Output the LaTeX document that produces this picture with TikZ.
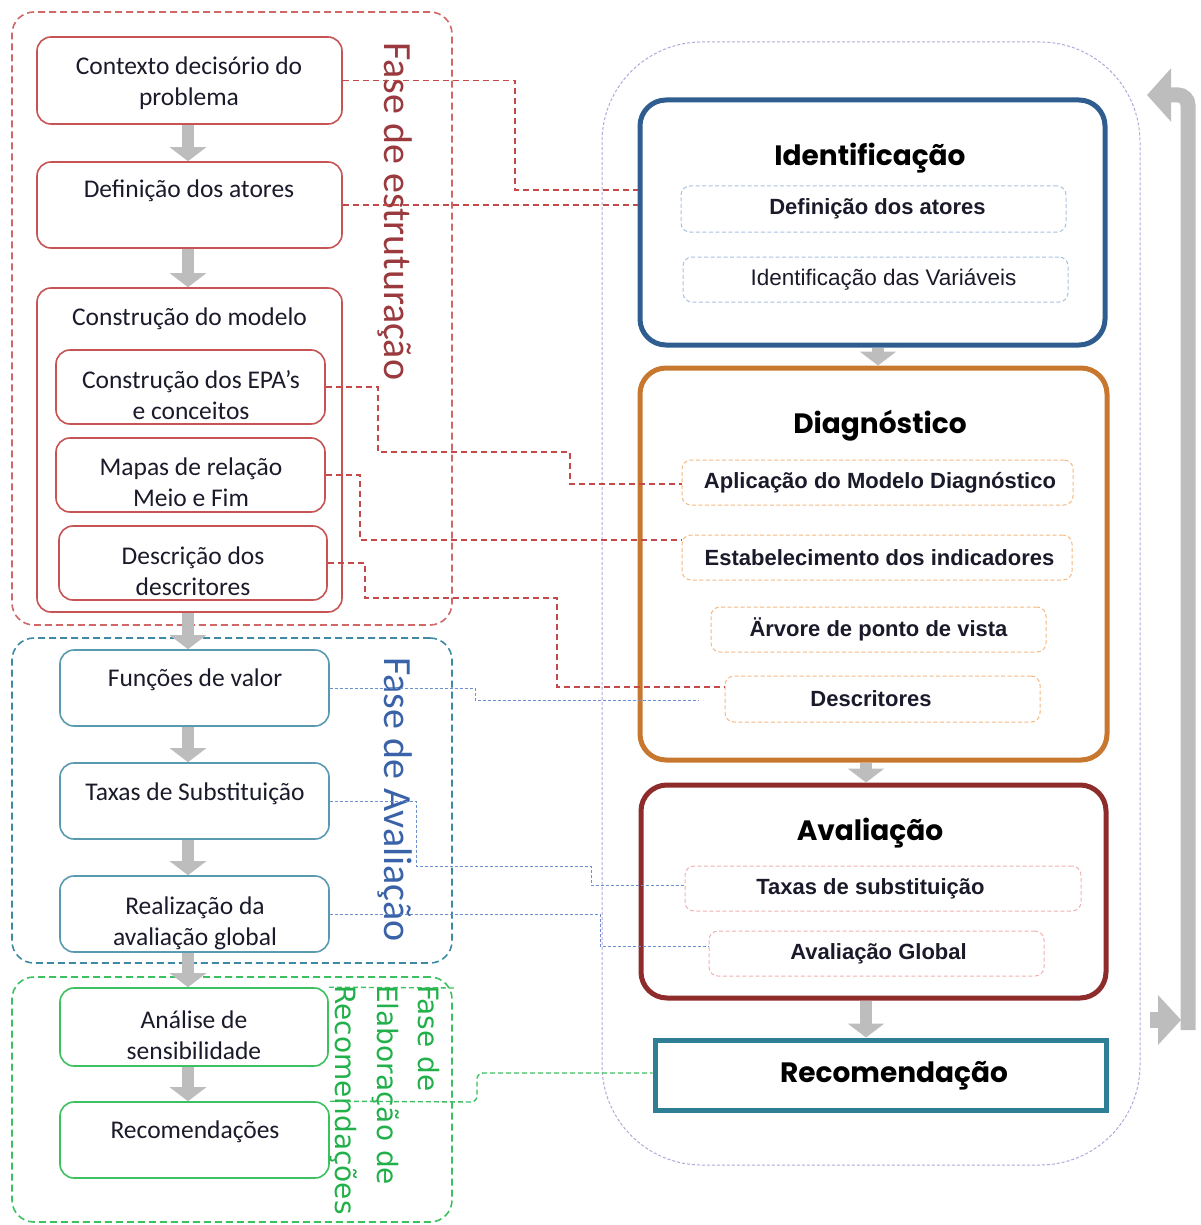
\documentclass[tikz,border=0pt]{standalone}
\usepackage{fontspec}
\usetikzlibrary{arrows.meta}
\setmainfont{Carlito}
\newfontfamily\headfont{Poppins}
\newfontfamily\arialfont{Liberation Sans}
\newfontfamily\greenfont{DejaVu Sans}

\definecolor{estrline}{HTML}{D06868}
\definecolor{estrbox}{HTML}{C65454}
\definecolor{estrtext}{HTML}{9A3A3E}
\definecolor{avalline}{HTML}{3E8AA4}
\definecolor{avalbox}{HTML}{5A9AB0}
\definecolor{avaltext}{HTML}{3A62A8}
\definecolor{elabline}{HTML}{3CC060}
\definecolor{elabtext}{HTML}{22B04A}
\definecolor{arrowgray}{HTML}{BDBDBD}
\definecolor{identc}{HTML}{2F5D8F}
\definecolor{diagc}{HTML}{C8772F}
\definecolor{avalc}{HTML}{8E2B2B}
\definecolor{recc}{HTML}{2E7F96}
\definecolor{identsub}{HTML}{A8C0E0}
\definecolor{diagsub}{HTML}{F5B880}
\definecolor{avalsub}{HTML}{F0B0B0}
\definecolor{lavender}{HTML}{B4A6DA}
\definecolor{redconn}{HTML}{C44A4A}
\definecolor{blueconn}{HTML}{6A8ED0}
\definecolor{inktext}{HTML}{1A1A2A}

\tikzset{
  phasebox/.style={draw, dashed, line width=1.6pt, dash pattern=on 7pt off 4pt, rounded corners=22pt, inner sep=0pt},
  leftbox/.style={draw, line width=1.6pt, rounded corners=14pt, inner sep=0pt},
  lefttext/.style={inner sep=0pt, align=center, text=inktext, font=\fontsize{25.5}{31}\selectfont},
  stagebox/.style={draw, line width=5pt, rounded corners=26pt, inner sep=0pt},
  subbox/.style={draw, dashed, line width=1pt, dash pattern=on 4pt off 2.5pt, rounded corners=9pt, inner sep=0pt,
    text=inktext, font=\arialfont\bfseries\fontsize{22}{24}\selectfont},
  heading/.style={font=\headfont\bfseries\fontsize{28}{32}\selectfont, inner sep=0pt},
  phasetext/.style={rotate=-90, anchor=west, inner sep=0pt, font=\fontsize{40}{44}\selectfont},
  flowarrow/.style={draw=arrowgray, line width=12pt, -{Triangle[width=36pt,length=14pt]}},
  redlink/.style={draw=redconn, line width=1.6pt, dash pattern=on 6pt off 4pt},
  bluelink/.style={draw=blueconn, line width=1pt, dash pattern=on 3pt off 2pt},
  greenlink/.style={draw=elabline, line width=1.4pt, dash pattern=on 5pt off 3pt},
}

\begin{document}
\begin{tikzpicture}[x=1pt,y=-1pt]
\useasboundingbox (0,0) rectangle (1200,1225);

% phase containers on the left
\node[phasebox, draw=estrline, minimum width=440pt, minimum height=613pt] (estr) at (232,318.5) {};
\node[phasebox, draw=avalline, minimum width=440pt, minimum height=325pt] (aval) at (232,800.5) {};
\node[phasebox, draw=elabline, minimum width=440pt, minimum height=245pt] (elab) at (232,1099.5) {};

% structuring phase
\node[leftbox, draw=estrbox, minimum width=305pt, minimum height=87pt] (ctx) at (189.5,80.5) {};
\node[lefttext] (ctxt) at (189,83.5) {Contexto decisório do\\problema};
\node[leftbox, draw=estrbox, minimum width=305pt, minimum height=86pt] (defa) at (189.5,205) {};
\node[lefttext] (defat0) at (189,191) {Definição dos atores};
\node[leftbox, draw=estrbox, minimum width=305pt, minimum height=324pt] (cons) at (189.5,450) {};
\node[lefttext] (constitle) at (189.5,319) {Construção do modelo};
\node[leftbox, draw=estrbox, minimum width=269pt, minimum height=74pt] (epa) at (190.5,387) {};
\node[lefttext] (epat) at (191,395.5) {Construção dos EPA’s\\e conceitos};
\node[leftbox, draw=estrbox, minimum width=269pt, minimum height=74pt] (mapas) at (190.5,475) {};
\node[lefttext] (mapast) at (191,482.5) {Mapas de relação\\Meio e Fim};
\node[leftbox, draw=estrbox, minimum width=268pt, minimum height=74pt] (descd) at (193,563) {};
\node[lefttext] (descdt) at (193,571.5) {Descrição dos\\descritores};

% evaluation phase
\node[leftbox, draw=avalbox, minimum width=269pt, minimum height=76pt] (func) at (194.5,688) {};
\node[lefttext] (funct) at (195,680) {Funções de valor};
\node[leftbox, draw=avalbox, minimum width=269pt, minimum height=76pt] (taxas) at (194.5,801) {};
\node[lefttext] (taxast) at (195,794) {Taxas de Substituição};
\node[leftbox, draw=avalbox, minimum width=269pt, minimum height=76pt] (real) at (194.5,914) {};
\node[lefttext] (realt) at (195,923.5) {Realização da\\avaliação global};

% recommendation phase
\node[leftbox, draw=elabline, minimum width=268pt, minimum height=78pt] (anal) at (194,1027) {};
\node[lefttext] (analt) at (194,1035.5) {Análise de\\sensibilidade};
\node[leftbox, draw=elabline, minimum width=269pt, minimum height=76pt] (recs) at (194.5,1140) {};
\node[lefttext] (recst) at (195,1132) {Recomendações};

% phase captions
\node[phasetext, text=estrtext] (estrcap) at (395,42) {Fase de estruturação};
\node[phasetext, text=avaltext] (avalcap) at (395,657) {Fase de Avaliação};
\node[rotate=-90, anchor=north west, inner sep=0pt, align=left, text=elabtext,
      font=\greenfont\fontsize{28}{41.5}\selectfont] (elabcap) at (440,985)
      {Fase de\\Elaboração de\\Recomendações};

% flow arrows on the left
\draw[flowarrow] ([xshift=-1.5pt]ctx.south) -- ([xshift=-1.5pt]defa.north);
\draw[flowarrow] ([xshift=-1.5pt]defa.south) -- ([xshift=-1.5pt]cons.north);
\draw[flowarrow] ([xshift=-1.5pt]cons.south) -- ([xshift=-6.5pt]func.north);
\draw[flowarrow] ([xshift=-6.5pt]func.south) -- ([xshift=-6.5pt]taxas.north);
\draw[flowarrow] ([xshift=-6.5pt]taxas.south) -- ([xshift=-6.5pt]real.north);
\draw[flowarrow] ([xshift=-6.5pt]real.south) -- ([xshift=-6pt]anal.north);
\draw[flowarrow] ([xshift=-6pt]anal.south) -- ([xshift=-6.5pt]recs.north);

% cycle container on the right
\node[draw=lavender, line width=1pt, dash pattern=on 3pt off 2pt, rounded corners=100pt,
      minimum width=538pt, minimum height=1123pt, inner sep=0pt] (cyc) at (871,603.5) {};

% stages
\node[stagebox, draw=identc, minimum width=465pt, minimum height=245pt] (ident) at (872.5,222.5) {};
\node[heading] (identt) at (870,158) {Identificação};
\node[subbox, draw=identsub, minimum width=385pt, minimum height=46pt] (defat) at (873.5,209) {\hspace*{8pt}Definição dos atores};
\node[subbox, draw=identsub, minimum width=385pt, minimum height=45pt,
      font=\arialfont\fontsize{22.5}{24}\selectfont] (idvar) at (875.5,279.5) {\hspace*{16pt}Identificação das Variáveis};

\node[stagebox, draw=diagc, minimum width=467pt, minimum height=392pt] (diag) at (873.5,564) {};
\node[heading] (diagt) at (880,426) {Diagnóstico};
\node[subbox, draw=diagsub, minimum width=391pt, minimum height=45pt] (aplic) at (877.5,482.5) {\hspace*{5pt}Aplicação do Modelo Diagnóstico};
\node[subbox, draw=diagsub, minimum width=390pt, minimum height=45pt] (estab) at (877,557.5) {\hspace*{5pt}Estabelecimento dos indicadores};
\node[subbox, draw=diagsub, minimum width=335pt, minimum height=45pt] (arvore) at (878.5,629.5) {Ärvore de ponto de vista};
\node[subbox, draw=diagsub, minimum width=315pt, minimum height=46pt] (descr) at (882.5,699) {\hspace*{-23pt}Descritores};

\node[stagebox, draw=avalc, minimum width=465pt, minimum height=213pt] (avl) at (873.5,891.5) {};
\node[heading] (avlt) at (870,833) {Avaliação};
\node[subbox, draw=avalsub, minimum width=396pt, minimum height=45pt] (taxsub) at (883,888.5) {\hspace*{-25pt}Taxas de substituição};
\node[subbox, draw=avalsub, minimum width=335pt, minimum height=45pt] (avglob) at (876.5,953.5) {\hspace*{4pt}Avaliação Global};

\node[draw=recc, line width=5pt, minimum width=451pt, minimum height=70pt, inner sep=0pt] (rec) at (880.5,1075) {};
\node[heading] (rect) at (894,1076) {Recomendação};

% flow arrows on the right
\draw[flowarrow] (ident.south -| 878,0) -- (diag.north -| 878,0);
\draw[flowarrow] (diag.south -| 866,0) -- (avl.north -| 866,0);
\draw[flowarrow] (avl.south -| 866,0) -- (rec.north -| 866,0);

% feedback loop
\coordinate (loopstart) at (1188,1030);
\coordinate (loopend) at (1147,95);
\draw[draw=arrowgray, line width=15pt, rounded corners=10pt, -{Triangle[width=52pt,length=24pt]}]
  (loopstart) -- (1188,95) -- (loopend);
\fill[arrowgray] (1150,1012) rectangle (1162,1028);
\fill[arrowgray] (1158,995) -- (1181,1020) -- (1158,1045) -- cycle;

% links from structuring steps
\draw[redlink] (ctx.east) -| (515,190) -- (ident.west |- 515,190);
\draw[redlink] (defa.east) -- (ident.west |- defa.east);
\draw[redlink] (epa.east) -| (378,452) -| (570,484) -- (aplic.west |- 570,484);
\draw[redlink] (mapas.east) -| (360,540) -- (estab.west |- 360,540);
\draw[redlink] (descd.east) -| (365,598) -| (557,687) -- (descr.west |- 557,687);

% links from evaluation steps
\coordinate (funcend) at (698,700);
\draw[bluelink] (func.east) -- (475,688) -- (475,700) -- (funcend);
\draw[bluelink] (taxas.east) -| (416,866) -| (591,885) -- (taxsub.west |- 591,885);
\draw[bluelink] (real.east) -| (600,946) -- (avglob.west |- 600,946);

% link from recommendation steps
\draw[greenlink] (anal.north east) -- (455,988);
\draw[greenlink, rounded corners=6pt] (recs.north east) -- (477,1102) -- (477,1073) -- (rec.west |- 477,1073);

\end{tikzpicture}
\end{document}
